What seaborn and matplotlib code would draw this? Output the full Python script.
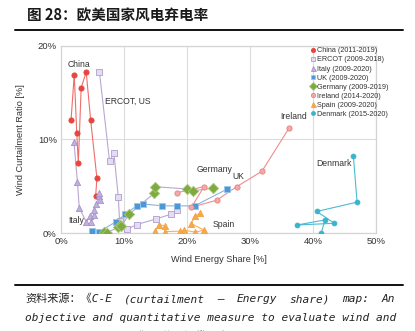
import matplotlib
matplotlib.use("Agg")
import matplotlib.pyplot as plt
import matplotlib.lines as mlines
import seaborn as sns
import pandas as pd

# ---------------- data ----------------
china_x = [1.6, 2.1, 2.5, 2.75, 3.2, 4.0, 4.7, 5.7, 5.5]
china_y = [12.1, 16.9, 10.7, 7.45, 15.5, 17.2, 12.1, 5.85, 3.96]

ercot_x = [6.1, 7.7, 8.4, 9.1, 9.3, 10.5, 12.0, 15.1, 17.4, 18.4]
ercot_y = [17.2, 7.7, 8.5, 3.8, 1.3, 0.4, 0.9, 1.5, 2.0, 2.5]

italy_x = [2.06, 2.6, 2.9, 4.0, 4.6, 4.8, 5.3, 5.3, 5.6, 6.0, 6.1, 6.2]
italy_y = [9.7, 5.5, 2.7, 1.2, 1.8, 1.2, 1.9, 2.5, 3.1, 3.9, 4.3, 3.5]

uk_x = [4.9, 6.1, 8.7, 10.2, 12.0, 13.0, 16.1, 18.4, 21.2, 26.4]
uk_y = [0.25, 0.15, 1.2, 2.0, 2.9, 3.1, 2.9, 2.9, 2.9, 4.7]

germany_x = [6.9, 7.3, 9.1, 9.4, 9.6, 10.8, 14.8, 14.9, 20.0, 20.9, 24.1]
germany_y = [0.15, 0.05, 0.6, 0.85, 0.75, 2.0, 4.25, 4.95, 4.7, 4.5, 4.8]

ireland_x = [18.4, 22.7, 20.7, 24.7, 27.9, 31.9, 36.2]
ireland_y = [4.3, 4.95, 2.75, 3.5, 4.95, 6.6, 11.2]

spain_x = [14.9, 15.6, 16.5, 16.5, 18.9, 19.2, 19.5, 21.3, 22.7, 20.7, 21.2, 22.1]
spain_y = [0.2, 0.9, 0.75, 0.15, 0.2, 0.05, 0.3, 0.1, 0.3, 1.0, 1.8, 2.1]

denmark_x = [41.3, 41.9, 37.5, 43.4, 40.6, 47.0, 46.4]
denmark_y = [0.0, 1.4, 0.86, 1.04, 2.3, 3.3, 8.27]

series_names = ["China (2011-2019)", "ERCOT (2009-2018)", "Italy (2009-2020)",
                "UK (2009-2020)", "Germany (2009-2019)", "Ireland (2014-2020)",
                "Spain (2009-2020)", "Denmark (2015-2020)"]
series_x = [china_x, ercot_x, italy_x, uk_x, germany_x, ireland_x, spain_x, denmark_x]
series_y = [china_y, ercot_y, italy_y, uk_y, germany_y, ireland_y, spain_y, denmark_y]

labels_text = ["China", "ERCOT, US", "Italy", "Germany", "UK", "Spain", "Ireland", "Denmark"]
labels_x = [2.9, 10.6, 2.4, 24.3, 28.1, 25.8, 36.9, 43.4]
labels_y = [18.0, 14.1, 1.3, 6.8, 6.0, 0.9, 12.4, 7.45]

x_ticks = [0, 10, 20, 30, 40, 50]
y_ticks = [0, 10, 20]

# ---------------- styles ----------------
styles = {
    "China (2011-2019)":   dict(marker="o", ms=3.0, mfc="#e8453f", mec="#e8453f", lc="#ee6e6a"),
    "ERCOT (2009-2018)":   dict(marker="s", ms=3.0, mfc="#e4dcf0", mec="#b09cce", lc="#b9a7d3"),
    "Italy (2009-2020)":   dict(marker="^", ms=3.6, mfc="#c0b0dc", mec="#a893cc", lc="#b9a7d3"),
    "UK (2009-2020)":      dict(marker="s", ms=3.0, mfc="#4a98d8", mec="#9cc6ea", lc="#8ab4e0"),
    "Germany (2009-2019)": dict(marker="D", ms=4.2, mfc="#7fab3e", mec="#a6c77a", lc="#b8a8cf"),
    "Ireland (2014-2020)": dict(marker="o", ms=3.0, mfc="#f4a9a9", mec="#ec7e7e", lc="#f08d8d"),
    "Spain (2009-2020)":   dict(marker="^", ms=3.6, mfc="#f6a84a", mec="#f5a23e", lc="#f7b060"),
    "Denmark (2015-2020)": dict(marker="o", ms=2.8, mfc="#3ab3cb", mec="#3ab3cb", lc="#4dbbd0"),
}

# ---------------- figure ----------------
sns.set_theme(style="whitegrid")
plt.rcParams["font.family"] = ["Liberation Sans", "DejaVu Sans"]

fig = plt.figure(figsize=(4.15, 3.31), dpi=100)
ax = fig.add_axes([0.147, 0.296, 0.759, 0.566])

rows = []
for name, xs, ys in zip(series_names, series_x, series_y):
    for i, (xv, yv) in enumerate(zip(xs, ys)):
        rows.append({"series": name, "order": i, "share": xv, "curt": yv})
df = pd.DataFrame(rows)

handles = []
for name in series_names:
    st = styles[name]
    sub = df[df["series"] == name]
    sns.lineplot(data=sub, x="share", y="curt", sort=False, estimator=None,
                 color=st["lc"], linewidth=0.8, ax=ax, legend=False, zorder=2)
    sns.scatterplot(data=sub, x="share", y="curt", marker=st["marker"],
                    s=(st["ms"] * 1.25) ** 2, color=st["mfc"], edgecolor=st["mec"],
                    linewidth=0.6, ax=ax, legend=False, zorder=3)
    handles.append(mlines.Line2D([], [], linestyle="none", marker=st["marker"],
                                 markersize=st["ms"], markerfacecolor=st["mfc"],
                                 markeredgecolor=st["mec"], markeredgewidth=0.6,
                                 label=name))

for t, xv, yv in zip(labels_text, labels_x, labels_y):
    ax.text(xv, yv, t, fontsize=6.2, ha="center", va="center", color="#333333")

ax.set_xlim(0, 50)
ax.set_ylim(0, 20)
ax.set_xticks(x_ticks)
ax.set_yticks(y_ticks)
ax.set_xticklabels([f"{v}%" for v in x_ticks])
ax.set_yticklabels([f"{v}%" for v in y_ticks])
ax.tick_params(axis="both", labelsize=6.8, colors="#333333", pad=3, length=0)
ax.grid(True, color="#dcdcdc", linewidth=0.8)
for sp in ax.spines.values():
    sp.set_color("#d4d4d4")
    sp.set_linewidth(0.9)
ax.set_xlabel("Wind Energy Share [%]", fontsize=6.6, color="#333333", labelpad=6)
ax.set_ylabel("Wind Curtailment Ratio [%]", fontsize=6.6, color="#333333", labelpad=9)

leg = ax.legend(handles=handles, loc="upper left", bbox_to_anchor=(0.79, 0.995),
                frameon=False, fontsize=5.2, handlelength=0.6, handletextpad=0.35,
                labelspacing=0.28, borderpad=0.1, borderaxespad=0.0)
for txt in leg.get_texts():
    txt.set_color("#333333")

# ---------------- title, rules, caption ----------------
fig.text(27 / 415, 1 - 15 / 331, "图 28：欧美国家风电弃电率",
         fontsize=10.5, fontweight="bold", color="#1a1a1a", va="center", ha="left",
         family=["Noto Sans CJK SC", "DejaVu Sans"])
fig.add_artist(mlines.Line2D([15 / 415, 403 / 415], [1 - 30 / 331, 1 - 30 / 331],
                             color="#111111", linewidth=1.4))
fig.add_artist(mlines.Line2D([15 / 415, 403 / 415], [1 - 285 / 331, 1 - 285 / 331],
                             color="#111111", linewidth=1.4))

cap_font = ["DejaVu Sans Mono", "Noto Sans CJK SC"]
cap_left, cap_right = 25, 395
cap_size = 8.0

# line 1 is justified (wide word gaps, as in the source)
words1 = ["资料来源：《C-E", "(curtailment", "–", "Energy", "share)", "map:", "An"]
renderer = fig.canvas.get_renderer()
tmp = [fig.text(0, 0, w, fontsize=cap_size, style="italic", family=cap_font) for w in words1]
widths = [t.get_window_extent(renderer=renderer).width for t in tmp]
for t in tmp:
    t.remove()
gap = (cap_right - cap_left - sum(widths)) / (len(words1) - 1)
xpos = cap_left
for w, wd in zip(words1, widths):
    fig.text(xpos / 415, 1 - 299 / 331, w, fontsize=cap_size, style="italic",
             color="#222222", va="center", ha="left", family=cap_font)
    xpos += wd + gap

fig.text(cap_left / 415, 1 - 318 / 331,
         "objective and quantitative measure to evaluate wind and",
         fontsize=cap_size, style="italic", color="#222222", va="center", ha="left",
         family=cap_font)
fig.text(cap_left / 415, 1 - 336 / 331, "solar curtailment》，信达证券研发中心",
         fontsize=cap_size, style="italic", color="#222222", va="center", ha="left",
         family=cap_font)

fig.savefig("out.png", dpi=100)
